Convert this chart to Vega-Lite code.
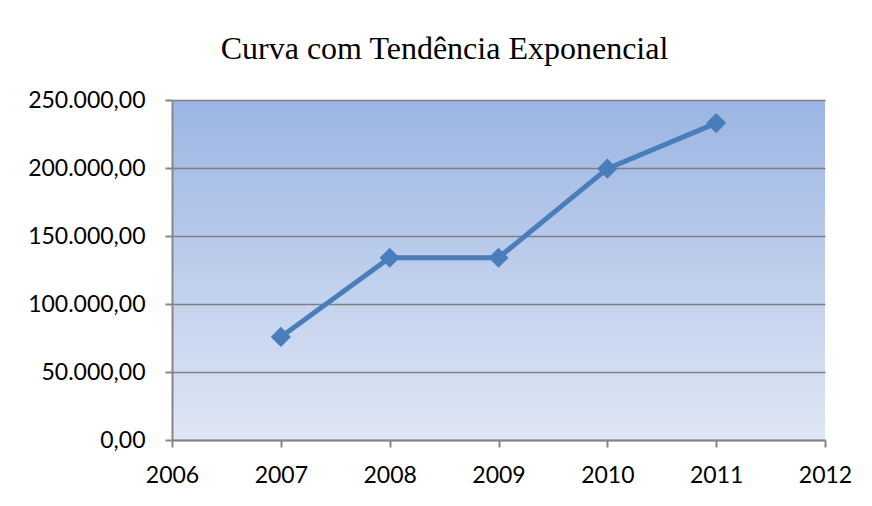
{
  "$schema": "https://vega.github.io/schema/vega-lite/v6.json",
  "width": 653,
  "height": 340,
  "padding": {"left": 27, "top": 33, "right": 10, "bottom": 10},
  "background": "white",
  "title": {
    "text": "Curva com Tendência Exponencial",
    "font": "Liberation Serif",
    "fontSize": 32,
    "fontWeight": "normal",
    "color": "black",
    "anchor": "middle",
    "frame": "group",
    "dx": -54,
    "offset": 23
  },
  "config": {
    "locale": {"number": {"decimal": ",", "thousands": ".", "grouping": [3], "currency": ["R$", ""]}},
    "view": {
      "stroke": null,
      "fill": {
        "gradient": "linear", "x1": 0, "y1": 0, "x2": 0, "y2": 1,
        "stops": [{"offset": 0, "color": "#9bb5e3"}, {"offset": 1, "color": "#e0e7f5"}]
      }
    },
    "axis": {
      "labelFont": "Lato",
      "labelFontSize": 23,
      "labelColor": "black",
      "domainColor": "#868686",
      "domainWidth": 2,
      "tickColor": "#868686",
      "tickWidth": 2,
      "tickSize": 7,
      "gridColor": "#808080",
      "gridWidth": 1.6,
      "title": null
    }
  },
  "data": {
    "values": [
      {"ano": 2007, "valor": 75800},
      {"ano": 2008, "valor": 134000},
      {"ano": 2009, "valor": 134000},
      {"ano": 2010, "valor": 199500},
      {"ano": 2011, "valor": 233000}
    ]
  },
  "encoding": {
    "x": {
      "field": "ano", "type": "quantitative",
      "scale": {"domain": [2006, 2012], "nice": false, "zero": false},
      "axis": {"values": [2006, 2007, 2008, 2009, 2010, 2011, 2012], "format": "d", "grid": false, "labelPadding": 17, "labelFlush": false, "labelOverlap": false}
    },
    "y": {
      "field": "valor", "type": "quantitative",
      "scale": {"domain": [0, 250000], "nice": false},
      "axis": {"values": [0, 50000, 100000, 150000, 200000, 250000], "format": ",.2f", "labelPadding": 20, "labelFlush": false}
    }
  },
  "layer": [
    {"mark": {"type": "line", "color": "#4a7ebb", "strokeWidth": 5}},
    {"mark": {"type": "point", "shape": "diamond", "filled": true, "size": 300, "color": "#4a7ebb", "opacity": 1, "stroke": "#4a7ebb", "strokeWidth": 2}}
  ]
}
